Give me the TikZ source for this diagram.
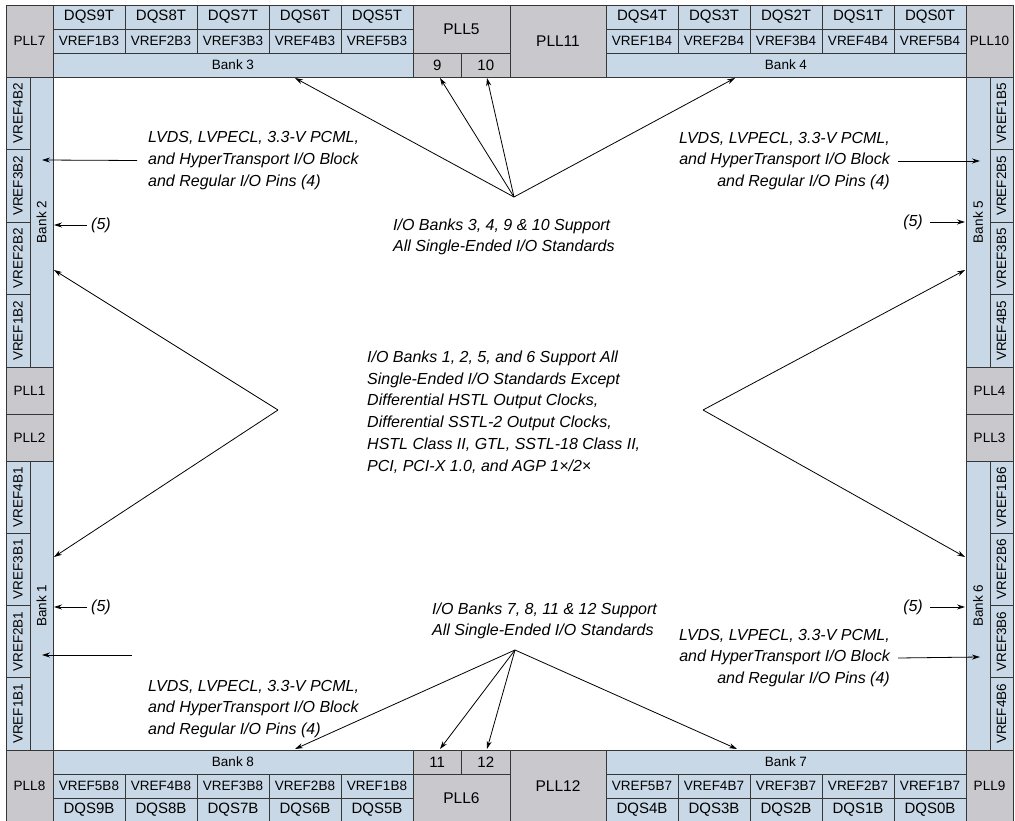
\documentclass[tikz,border=0pt]{standalone}
\usepackage{fontspec}
\setmainfont{Liberation Sans}
\usetikzlibrary{arrows.meta}
\definecolor{bankblue}{HTML}{C8D8E6}
\definecolor{pllgray}{HTML}{C8C8CD}
\definecolor{edgecol}{HTML}{363636}
\tikzset{
 cellb/.style={draw=edgecol, fill=bankblue, line width=0.9pt, inner sep=0pt, outer sep=0pt},
 cellg/.style={draw=edgecol, fill=pllgray, line width=0.9pt, inner sep=0pt, outer sep=0pt},
 fdqs/.style={font=\fontsize{15}{15}\selectfont},
 fsm/.style={font=\fontsize{13.5}{13.5}\selectfont},
 fpll/.style={font=\fontsize{15.5}{15.5}\selectfont},
 lab/.style={font=\fontsize{16}{21.7}\selectfont\itshape, inner sep=0pt},
 arr/.style={draw=black, line width=0.8pt, -{Stealth[length=8pt,width=5pt]}},
}
\newcommand\mycell[7]{%
 \pgfmathsetmacro\mcx{((#2)+(#4))/2}\pgfmathsetmacro\mcy{((#3)+(#5))/2}%
 \pgfmathsetmacro\mcw{(#4)-(#2)}\pgfmathsetmacro\mch{(#5)-(#3)}%
 \node[#6, minimum width=\mcw pt, minimum height=\mch pt] (#1) at (\mcx,\mcy) {#7};}
\newcommand\myvcell[7]{%
 \pgfmathsetmacro\mcx{((#2)+(#4))/2}\pgfmathsetmacro\mcy{((#3)+(#5))/2}%
 \pgfmathsetmacro\mcw{(#4)-(#2)}\pgfmathsetmacro\mch{(#5)-(#3)}%
 \node[#6, rotate=90, minimum width=\mch pt, minimum height=\mcw pt] (#1) at (\mcx,\mcy) {#7};}
\begin{document}
\begin{tikzpicture}[x=1pt,y=-1pt]
\useasboundingbox (0,0) rectangle (1015,821);
\clip (0,0) rectangle (1015,821);
\fill[white] (0,0) rectangle (1015,821);
% ---------- top ----------
\mycell{PLL7}{6}{5}{53}{77}{cellg,fsm}{PLL7}
\foreach \i/\nm/\vr in {0/DQS9T/VREF1B3,1/DQS8T/VREF2B3,2/DQS7T/VREF3B3,3/DQS6T/VREF4B3,4/DQS5T/VREF5B3}{
 \mycell{\nm}{53+72*\i}{5}{125+72*\i}{29}{cellb,fdqs}{\nm}
 \mycell{\vr}{53+72*\i}{29}{125+72*\i}{53}{cellb,fsm}{\vr}
}
\mycell{Bank3}{53}{53}{413}{77}{cellb,fsm}{Bank 3}
\mycell{PLL5}{413}{5}{510}{53}{cellg,fpll}{PLL5}
\mycell{n9}{413}{53}{461.5}{77}{cellg,fdqs}{9}
\mycell{n10}{461.5}{53}{510}{77}{cellg,fdqs}{10}
\mycell{PLL11}{510}{5}{606}{77}{cellg,fpll}{PLL11}
\foreach \i/\nm/\vr in {0/DQS4T/VREF1B4,1/DQS3T/VREF2B4,2/DQS2T/VREF3B4,3/DQS1T/VREF4B4,4/DQS0T/VREF5B4}{
 \mycell{\nm}{606+72*\i}{5}{678+72*\i}{29}{cellb,fdqs}{\nm}
 \mycell{\vr}{606+72*\i}{29}{678+72*\i}{53}{cellb,fsm}{\vr}
}
\mycell{Bank4}{606}{53}{966}{77}{cellb,fsm}{Bank 4}
\mycell{PLL10}{966}{5}{1013}{77}{cellg,fsm}{PLL10}
% ---------- left ----------
\foreach \i/\nm in {0/VREF4B2,1/VREF3B2,2/VREF2B2,3/VREF1B2}{
 \myvcell{\nm}{6}{77+72.5*\i}{30}{149.5+72.5*\i}{cellb,fsm}{\nm}
}
\myvcell{Bank2}{30}{77}{53}{367}{cellb,fsm}{Bank 2}
\mycell{PLL1}{6}{367}{53}{414}{cellg,fsm}{PLL1}
\mycell{PLL2}{6}{414}{53}{461}{cellg,fsm}{PLL2}
\foreach \i/\nm in {0/VREF4B1,1/VREF3B1,2/VREF2B1,3/VREF1B1}{
 \myvcell{\nm}{6}{461+72.25*\i}{30}{533.25+72.25*\i}{cellb,fsm}{\nm}
}
\myvcell{Bank1}{30}{461}{53}{750}{cellb,fsm}{Bank 1}
% ---------- right ----------
\myvcell{Bank5}{966}{77}{990}{367}{cellb,fsm}{Bank 5}
\foreach \i/\nm in {0/VREF1B5,1/VREF2B5,2/VREF3B5,3/VREF4B5}{
 \myvcell{\nm}{990}{77+72.5*\i}{1013}{149.5+72.5*\i}{cellb,fsm}{\nm}
}
\mycell{PLL4}{966}{367}{1013}{414}{cellg,fsm}{PLL4}
\mycell{PLL3}{966}{414}{1013}{461}{cellg,fsm}{PLL3}
\myvcell{Bank6}{966}{461}{990}{750}{cellb,fsm}{Bank 6}
\foreach \i/\nm in {0/VREF1B6,1/VREF2B6,2/VREF3B6,3/VREF4B6}{
 \myvcell{\nm}{990}{461+72.25*\i}{1013}{533.25+72.25*\i}{cellb,fsm}{\nm}
}
% ---------- bottom ----------
\mycell{PLL8}{6}{750}{53}{822}{cellg,fsm}{PLL8}
\mycell{Bank8}{53}{750}{413}{774}{cellb,fsm}{Bank 8}
\foreach \i/\nm/\vr in {0/DQS9B/VREF5B8,1/DQS8B/VREF4B8,2/DQS7B/VREF3B8,3/DQS6B/VREF2B8,4/DQS5B/VREF1B8}{
 \mycell{\vr}{53+72*\i}{774}{125+72*\i}{798}{cellb,fsm}{\vr}
 \mycell{\nm}{53+72*\i}{798}{125+72*\i}{822}{cellb,fdqs}{\nm}
}
\mycell{n11}{413}{750}{461.5}{774}{cellg,fdqs}{11}
\mycell{n12}{461.5}{750}{510}{774}{cellg,fdqs}{12}
\mycell{PLL6}{413}{774}{510}{822}{cellg,fpll}{PLL6}
\mycell{PLL12}{510}{750}{606}{822}{cellg,fpll}{PLL12}
\mycell{Bank7}{606}{750}{966}{774}{cellb,fsm}{Bank 7}
\foreach \i/\nm/\vr in {0/DQS4B/VREF5B7,1/DQS3B/VREF4B7,2/DQS2B/VREF3B7,3/DQS1B/VREF2B7,4/DQS0B/VREF1B7}{
 \mycell{\vr}{606+72*\i}{774}{678+72*\i}{798}{cellb,fsm}{\vr}
 \mycell{\nm}{606+72*\i}{798}{678+72*\i}{822}{cellb,fdqs}{\nm}
}
\mycell{PLL9}{966}{750}{1013}{822}{cellg,fsm}{PLL9}
% ---------- labels ----------
\node[lab, anchor=west, align=left] (ltl) at (148,160.5) {LVDS, LVPECL, 3.3-V PCML,\\and HyperTransport I/O Block\\and Regular I/O Pins (4)};
\node[lab, anchor=east, align=right] (ltr) at (890,161) {LVDS, LVPECL, 3.3-V PCML,\\and HyperTransport I/O Block\\and Regular I/O Pins (4)};
\node[lab, anchor=west, align=left] (lbl) at (148,709) {LVDS, LVPECL, 3.3-V PCML,\\and HyperTransport I/O Block\\and Regular I/O Pins (4)};
\node[lab, anchor=east, align=right] (lbr) at (890,658) {LVDS, LVPECL, 3.3-V PCML,\\and HyperTransport I/O Block\\and Regular I/O Pins (4)};
\node[lab, anchor=west] (f5tl) at (91,225) {(5)};
\node[lab, anchor=east] (f5tr) at (923,222) {(5)};
\node[lab, anchor=west] (f5bl) at (91,607) {(5)};
\node[lab, anchor=east] (f5br) at (923,607) {(5)};
\node[lab, anchor=west, align=left] (ttop) at (393,237) {I/O Banks 3, 4, 9 \& 10 Support\\All Single-Ended I/O Standards};
\node[lab, anchor=west, align=left] (tbot) at (432,621) {I/O Banks 7, 8, 11 \& 12 Support\\All Single-Ended I/O Standards};
\node[lab, anchor=west, align=left] (tmid) at (367,412) {I/O Banks 1, 2, 5, and 6 Support All\\Single-Ended I/O Standards Except\\Differential HSTL Output Clocks,\\Differential SSTL-2 Output Clocks,\\HSTL Class II, GTL, SSTL-18 Class II,\\PCI, PCI-X 1.0, and AGP 1×/2×};
% ---------- connector points ----------
\coordinate (ct) at (514,197);
\coordinate (cb) at (515,650);
\coordinate (al) at (278,410);
\coordinate (ar) at (703,410);
\coordinate (tB3) at (295,78);
\coordinate (t9) at (440,78);
\coordinate (t10) at (487,78);
\coordinate (tB4) at (735,78);
\coordinate (tB8) at (295,749);
\coordinate (t11) at (440,749);
\coordinate (t12) at (487,749);
\coordinate (tB7) at (737,749);
\coordinate (tB2a) at (54,270);
\coordinate (tB1a) at (54,557);
\coordinate (tB5a) at (965,270);
\coordinate (tB6a) at (965,557);
\coordinate (tB2b) at (42,160);
\coordinate (tB2c) at (54,225);
\coordinate (tB5b) at (980,161);
\coordinate (tB5c) at (965,222);
\coordinate (sB1b) at (132,655);
\coordinate (tB1b) at (42,655);
\coordinate (tB1c) at (54,607);
\coordinate (tB6b) at (980,657);
\coordinate (tB6c) at (965,607);
% ---------- connectors ----------
\draw[arr] (ct) -- (tB3);
\draw[arr] (ct) -- (t9);
\draw[arr] (ct) -- (t10);
\draw[arr] (ct) -- (tB4);
\draw[arr] (cb) -- (tB8);
\draw[arr] (cb) -- (t11);
\draw[arr] (cb) -- (t12);
\draw[arr] (cb) -- (tB7);
\draw[arr] (al) -- (tB2a);
\draw[arr] (al) -- (tB1a);
\draw[arr] (ar) -- (tB5a);
\draw[arr] (ar) -- (tB6a);
\draw[arr] ([xshift=-11pt]ltl.west) -- (tB2b);
\draw[arr] ([xshift=-4pt]f5tl.west) -- (tB2c);
\draw[arr] ([xshift=8pt]ltr.east) -- (tB5b);
\draw[arr] ([xshift=7pt]f5tr.east) -- (tB5c);
\draw[arr] (sB1b) -- (tB1b);
\draw[arr] ([xshift=-4pt]f5bl.west) -- (tB1c);
\draw[arr] ([xshift=8pt]lbr.east) -- (tB6b);
\draw[arr] ([xshift=7pt]f5br.east) -- (tB6c);
\end{tikzpicture}
\end{document}
